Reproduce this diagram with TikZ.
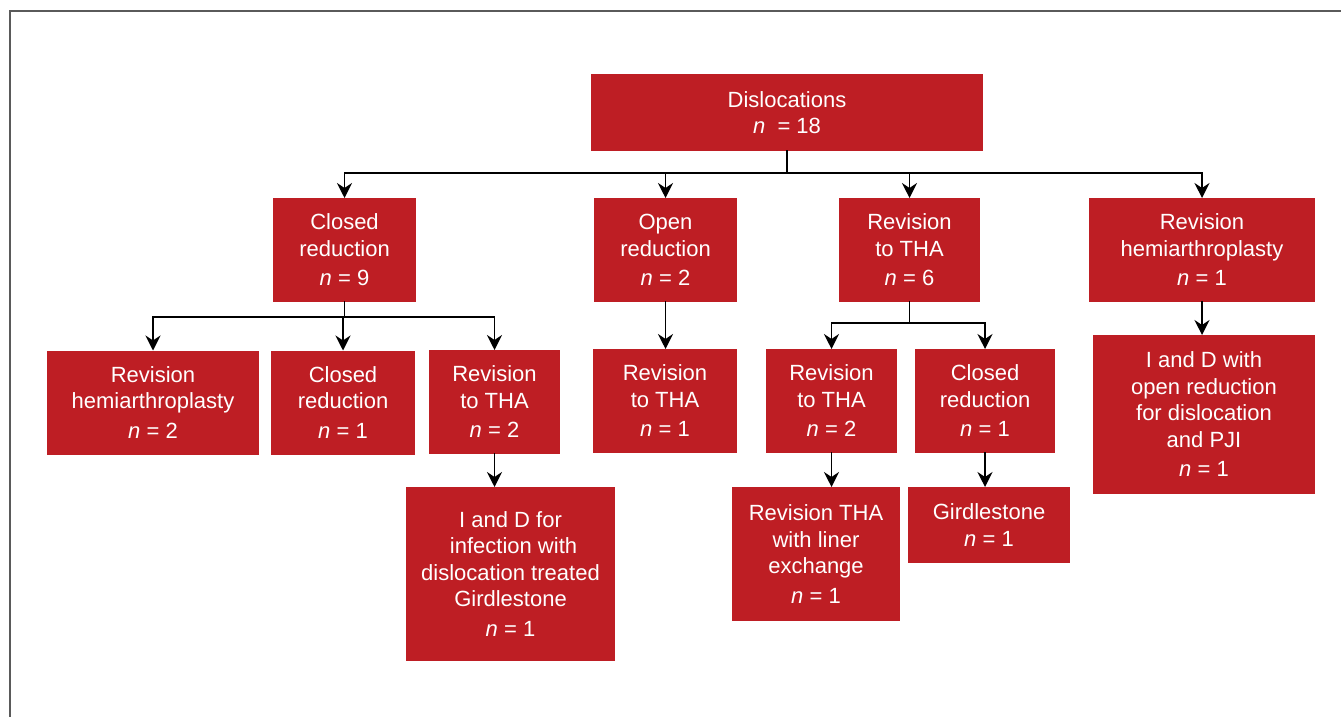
\documentclass[tikz,border=0pt]{standalone}
\usepackage{fontspec}
\setmainfont{Liberation Sans}
\usepackage{tikz}
\usetikzlibrary{arrows.meta}

\begin{document}
\begin{tikzpicture}[x=1pt,y=-1pt,line cap=rect,
	box/.style={fill=boxred, text=white, inner sep=0, outer sep=0, align=center, font=\fontsize{22pt}{26.5pt}\selectfont},
	link/.style={line width=1.5pt, black},
	arr/.style={link, -{Stealth[length=15pt,width=15pt,inset=5pt]}}]
	\definecolor{boxred}{RGB}{190, 30, 36}
	\definecolor{framegray}{RGB}{90, 90, 90}
	\useasboundingbox (0,0) rectangle (1341,717);
	\draw [line width=2.0pt, framegray, line cap=butt] (9.5,717) -- (9.5,11) -- (1341,11);
	% level 0
	\node[box, minimum width=392, minimum height=77] (disloc) at (787,112.5) {Dislocations\\\textit{n} \ = 18};
	% level 1
	\node[box, minimum width=143, minimum height=104] (closedA) at (344.5,250) {Closed\\reduction\\[3pt]\textit{n} = 9};
	\node[box, minimum width=143, minimum height=104] (openA) at (665.5,250) {Open\\reduction\\[3pt]\textit{n} = 2};
	\node[box, minimum width=141, minimum height=104] (revthaA) at (909.5,250) {Revision\\to THA\\[3pt]\textit{n} = 6};
	\node[box, minimum width=226, minimum height=104] (revhemiA) at (1202,250) {Revision\\hemiarthroplasty\\[3pt]\textit{n} = 1};
	% level 2
	\node[box, minimum width=212, minimum height=104] (revhemiB) at (153,402.5) {Revision\\hemiarthroplasty\\[3pt]\textit{n} = 2};
	\node[box, minimum width=144, minimum height=104] (closedB) at (343,402.5) {Closed\\reduction\\[3pt]\textit{n} = 1};
	\node[box, minimum width=131, minimum height=104] (revthaB) at (494.5,402) {Revision\\to THA\\[3pt]\textit{n} = 2};
	\node[box, minimum width=144, minimum height=104] (revthaC) at (665,401) {Revision\\to THA\\[3pt]\textit{n} = 1};
	\node[box, minimum width=131, minimum height=104] (revthaD) at (831.5,401) {Revision\\to THA\\[3pt]\textit{n} = 2};
	\node[box, minimum width=140, minimum height=104] (closedC) at (985,401) {Closed\\reduction\\[3pt]\textit{n} = 1};
	\node[box, minimum width=222, minimum height=159] (idopen) at (1204,414.5) {I and D with\\open reduction\\for dislocation\\and PJI\hspace*{34pt}\\[3pt]\textit{n} = 1};
	% level 3
	\node[box, minimum width=209, minimum height=174] (idgird) at (510.5,574) {I and D for\\\ infection with\\dislocation treated\\Girdlestone\\[3pt]\textit{n} = 1};
	\node[box, minimum width=168, minimum height=134] (liner) at (816,554) {Revision THA\\with liner\\exchange\\[3pt]\textit{n} = 1};
	\node[box, minimum width=162, minimum height=76] (gird) at (989,525) {Girdlestone\\\textit{n} = 1};
	% forks
	\coordinate (forkA) at (787,173);
	\coordinate (forkB) at (344.5,317);
	\coordinate (forkC) at (909.5,323);
	\draw [link] (disloc) -- (forkA);
	\draw [arr] (forkA) -| (closedA);
	\draw [arr] (forkA) -| (openA);
	\draw [arr] (forkA) -| (revthaA);
	\draw [arr] (forkA) -| (revhemiA);
	\draw [link] (closedA) -- (forkB);
	\draw [arr] (forkB) -| (revhemiB);
	\draw [arr] (forkB) -| (closedB);
	\draw [arr] (forkB) -| (revthaB);
	\draw [link] (revthaA) -- (forkC);
	\draw [arr] (forkC) -| (revthaD);
	\draw [arr] (forkC) -| (closedC);
	\draw [arr] (openA.south) -- (openA.south |- revthaC.north);
	\draw [arr] (revthaB.south) -- (revthaB.south |- idgird.north);
	\draw [arr] (revthaD.south) -- (revthaD.south |- liner.north);
	\draw [arr] (closedC.south) -- (closedC.south |- gird.north);
	\draw [arr] (revhemiA.south) -- (revhemiA.south |- idopen.north);
\end{tikzpicture}
\end{document}
